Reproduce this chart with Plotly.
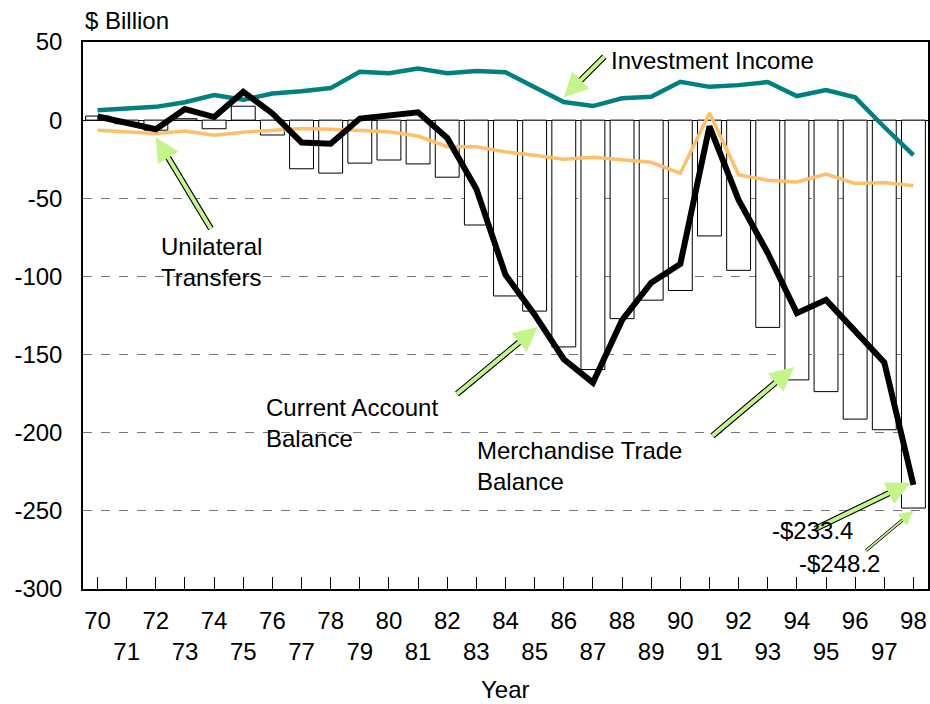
import plotly.graph_objects as go

years = list(range(70, 99))
tick_labels = [str(y) if y % 2 == 0 else "<br>" + str(y) for y in years]
y_ticks = [50, 0, -50, -100, -150, -200, -250, -300]
y_tick_labels = ["50", "0", "-50", "-100", "-150", "-200", "-250", "-300"]

merch_trade = [2.6, -2.3, -6.4, 0.9, -5.5, 8.9, -9.5, -31.1, -33.9, -27.5, -25.5, -28.0,
               -36.5, -67.1, -112.5, -122.2, -145.1, -159.6, -127.0, -115.2, -109.0,
               -74.1, -96.1, -132.6, -166.2, -173.7, -191.3, -198.1, -248.2]
current_account = [2.3, -1.4, -5.8, 7.1, 2.0, 18.1, 4.3, -14.3, -15.1, 1.0, 3.0, 5.0,
                   -11.4, -44.0, -99.0, -124.5, -153.0, -168.0, -128.0, -104.0, -92.0,
                   -4.0, -51.0, -85.0, -123.5, -115.0, -135.0, -155.0, -233.4]
investment_income = [6.4, 7.7, 8.5, 11.5, 16.0, 13.0, 17.0, 18.5, 20.5, 31.0, 30.0, 33.0,
                     30.0, 31.5, 30.7, 21.0, 11.6, 9.0, 14.0, 15.0, 24.5, 21.3, 22.4,
                     24.4, 15.4, 19.2, 14.6, -4.4, -22.4]
unilateral_transfers = [-6.4, -7.4, -8.5, -7.0, -9.6, -7.7, -6.4, -5.3, -5.8, -6.4, -7.5,
                        -10.2, -17.0, -17.0, -20.3, -22.4, -25.0, -23.7, -25.6, -27.0,
                        -34.0, 4.5, -35.0, -38.4, -39.6, -34.5, -40.5, -39.9, -42.0]

FONT = "Liberation Sans, Arial, sans-serif"
GREEN = "#c4f58a"
FS = 24

fig = go.Figure()
fig.add_trace(go.Bar(x=years, y=merch_trade, width=0.82,
                     marker=dict(color="white", line=dict(color="black", width=1)),
                     name="Merchandise Trade Balance"))
fig.add_trace(go.Scatter(x=years, y=unilateral_transfers, mode="lines",
                         line=dict(color="#FFBF69", width=3.5), name="Unilateral Transfers"))
fig.add_trace(go.Scatter(x=years, y=investment_income, mode="lines",
                         line=dict(color="#008080", width=4.5), name="Investment Income"))
fig.add_trace(go.Scatter(x=years, y=current_account, mode="lines",
                         line=dict(color="black", width=6), name="Current Account Balance"))

annotations = []

def arrow(x, y, ax, ay, w_in=4.0, w_out=6.2, size=1.2):
    head_len = 3.2 * w_in * size
    annotations.append(dict(x=x, y=y, ax=ax, ay=ay, xref="x", yref="y", text="",
                            showarrow=True, arrowhead=0, standoff=head_len * 0.7,
                            arrowwidth=w_out, arrowcolor="black"))
    annotations.append(dict(x=x, y=y, ax=ax, ay=ay, xref="x", yref="y", text="",
                            showarrow=True, arrowhead=2, arrowsize=size,
                            arrowwidth=w_in, arrowcolor=GREEN))

def label(x, y, text, xanchor="left", xshift=0):
    annotations.append(dict(x=x, y=y, xref="x", yref="y", text=text, showarrow=False,
                            xanchor=xanchor, yanchor="middle", align="left", xshift=xshift,
                            font=dict(family=FONT, size=FS, color="black")))

arrow(86, 14.7, 42, -42)
arrow(72, -10.9, 56, 93)
arrow(85.1, -132.4, -82, 68)
arrow(93.9, -158, -83, 70)
arrow(97.9, -232, -97, 47)
arrow(98, -250, -49, 41, w_in=1.8, w_out=3.2, size=1.6)

label(87.55, 38.4, "Investment Income")
label(72.1, -90.9, "Unilateral<br>Transfers")
label(75.7, -193.5, "Current Account<br>Balance")
label(82.95, -221.4, "Merchandise Trade<br>Balance")
label(96.0, -262.3, "-$233.4", xanchor="right")
label(98.0, -283.4, "-$248.2", xanchor="right", xshift=-31)

annotations.append(dict(x=0, y=1.0, xref="paper", yref="paper", yshift=22,
                        text="$ Billion", showarrow=False, xanchor="left", yanchor="middle",
                        font=dict(family=FONT, size=FS, color="black")))
annotations.append(dict(x=0.5, y=0, xref="paper", yref="paper", yshift=-100,
                        text="Year", showarrow=False, xanchor="center", yanchor="middle",
                        font=dict(family=FONT, size=FS, color="black")))

fig.update_layout(
    width=930, height=704,
    margin=dict(l=83, r=2, t=42, b=115),
    paper_bgcolor="white", plot_bgcolor="white",
    showlegend=False,
    font=dict(family=FONT, color="black"),
    annotations=annotations,
)
fig.update_xaxes(range=[69.5, 98.5], tickmode="array", tickvals=years, ticktext=tick_labels,
                 tickangle=0,
                 ticks="inside", ticklen=12, tickcolor="black", tickwidth=1,
                 showline=True, linecolor="black", linewidth=1.5, mirror=True,
                 showgrid=False, zeroline=False, ticklabelstandoff=9, automargin=False,
                 tickfont=dict(family=FONT, size=FS, color="black"))
fig.update_yaxes(range=[-300, 50], tickmode="array", tickvals=y_ticks, ticktext=y_tick_labels,
                 showline=True, linecolor="black", linewidth=1.5, mirror=True,
                 showgrid=True, gridcolor="#777777", griddash="dash", gridwidth=1,
                 zeroline=True, zerolinecolor="black", zerolinewidth=1.2,
                 ticks="", ticklabelstandoff=14, automargin=False,
                 tickfont=dict(family=FONT, size=FS, color="black"))

fig.write_html("out.html", config={"displayModeBar": False},
               post_script="document.body.style.margin='0';document.body.style.overflow='hidden';")
